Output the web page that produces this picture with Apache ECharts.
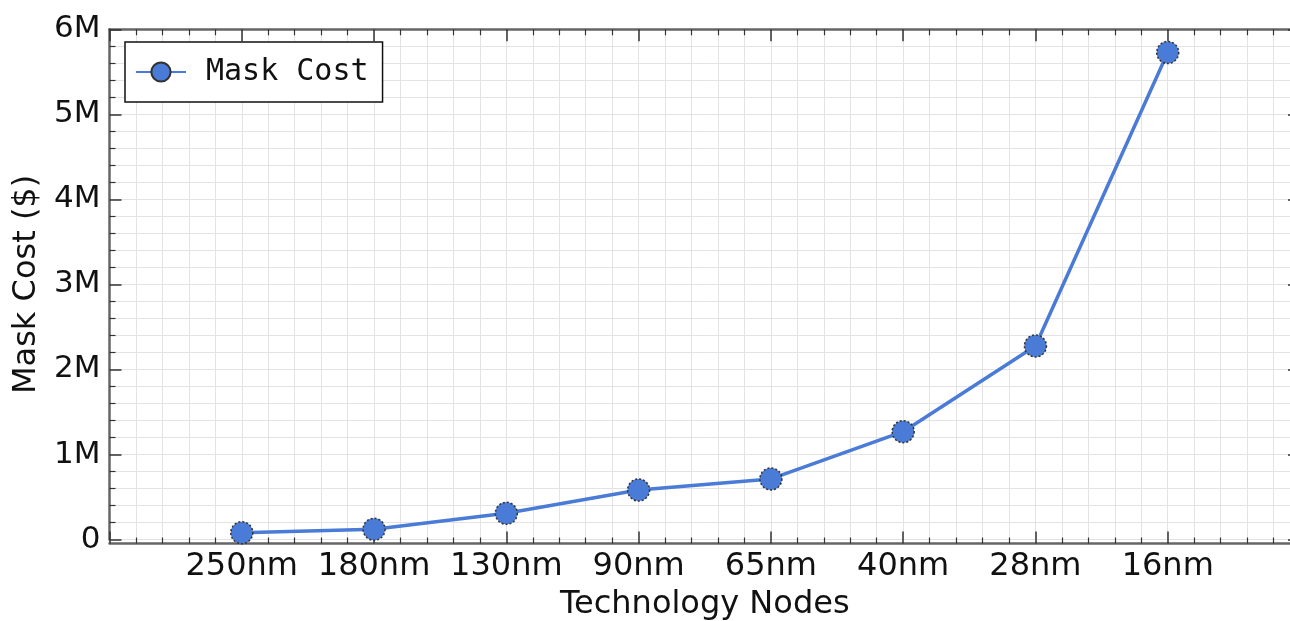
<!DOCTYPE html>
<html>
<head>
<meta charset="utf-8">
<script src="https://cdn.jsdelivr.net/npm/echarts@6/dist/echarts.min.js"></script>
<style>
  html, body { margin: 0; padding: 0; background: #fff; overflow: hidden; }
  #wrap { position: relative; width: 1290px; height: 621px; overflow: hidden; }
  #plot { position: absolute; left: 0; top: 0; width: 1310px; height: 621px; }
</style>
</head>
<body>
<div id="wrap"><div id="plot"></div></div>
<script>
// tech nodes and mask cost in $
var nodes = ["250nm", "180nm", "130nm", "90nm", "65nm", "40nm", "28nm", "16nm"];
var maskCost = [80000, 120000, 308000, 582000, 712000, 1268000, 2276000, 5727000];

var font = "DejaVu Sans";
var spine = "#666";
var tickColor = "#333";
var gridColor = "#e3e3e3";

function xAxisCfg(pos, showLabels) {
  return {
    type: "value",
    position: pos,
    min: -1,
    max: 8,
    interval: 1,
    offset: pos === "bottom" ? 4 : 0,
    name: showLabels ? "Technology Nodes" : "",
    nameLocation: "middle",
    nameGap: 45,
    nameTextStyle: { fontFamily: font, fontSize: 32, color: "#111" },
    axisLine: { show: true, onZero: false, lineStyle: { color: spine, width: 2.5 } },
    axisTick: { show: true, inside: true, length: 12, lineStyle: { color: tickColor, width: 1.5 } },
    minorTick: { show: true, splitNumber: 5, length: 6, lineStyle: { color: tickColor, width: 1.2 } },
    axisLabel: {
      show: showLabels,
      margin: 7,
      fontFamily: font,
      fontSize: 32,
      color: "#111",
      formatter: function (v) { return nodes[v] || ""; }
    },
    splitLine: { show: showLabels, lineStyle: { color: gridColor, width: 1 } },
    minorSplitLine: { show: showLabels, lineStyle: { color: gridColor, width: 1 } }
  };
}

function yAxisCfg(pos, showLabels) {
  return {
    type: "value",
    position: pos,
    min: 0,
    max: 6000000,
    interval: 1000000,
    name: showLabels ? "Mask Cost ($)" : "",
    nameLocation: "middle",
    nameGap: 64,
    nameTextStyle: { fontFamily: font, fontSize: 32, color: "#111" },
    axisLine: { show: true, onZero: false, lineStyle: { color: spine, width: 2.5 } },
    axisTick: { show: true, inside: true, length: 12, lineStyle: { color: tickColor, width: 1.5 } },
    minorTick: { show: true, splitNumber: 5, length: 6, lineStyle: { color: tickColor, width: 1.2 } },
    axisLabel: {
      show: showLabels,
      margin: 9,
      fontFamily: font,
      fontSize: 31,
      color: "#111",
      formatter: function (v) { return v === 0 ? "0" : (v / 1000000) + "M"; }
    },
    splitLine: { show: showLabels, lineStyle: { color: gridColor, width: 1 } },
    minorSplitLine: { show: showLabels, lineStyle: { color: gridColor, width: 1 } }
  };
}

// plot is 1310 wide inside the 1290 window, so the right spine falls just outside, like the cropped original
var chart = echarts.init(document.getElementById("plot"), null, { width: 1310, height: 621 });
chart.setOption({
  animation: false,
  backgroundColor: "#fff",
  grid: { left: 109.5, right: 10, top: 29.3, bottom: 81.5, containLabel: false, outerBoundsMode: "none" },
  legend: {
    left: 125,
    top: 42,
    padding: [15, 14, 15, 10],
    backgroundColor: "#fff",
    borderColor: "#111",
    borderWidth: 1.5,
    borderRadius: 0,
    itemWidth: 50,
    itemHeight: 24,
    textStyle: { fontFamily: "DejaVu Sans Mono", fontSize: 30, color: "#111", padding: [0, 0, 0, 15] },
    data: ["Mask Cost"]
  },
  xAxis: [xAxisCfg("bottom", true), xAxisCfg("top", false)],
  yAxis: [yAxisCfg("left", true), yAxisCfg("right", false)],
  series: [{
    name: "Mask Cost",
    type: "line",
    xAxisIndex: 0,
    yAxisIndex: 0,
    data: maskCost.map(function (v, i) { return [i, v]; }),
    symbol: "circle",
    symbolSize: 22,
    lineStyle: { color: "#4a7bd6", width: 3.5 },
    itemStyle: { color: "#4a7bd6", borderColor: "#333", borderWidth: 1.5, borderType: [2, 2] },
    emphasis: { disabled: true },
    z: 5
  }]
});
</script>
</body>
</html>
